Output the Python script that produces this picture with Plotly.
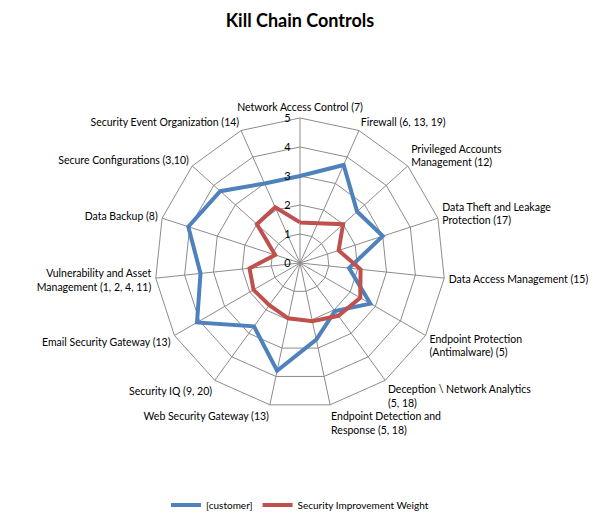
import plotly.graph_objects as go

categories = [
    "Network Access Control (7)",
    "Firewall (6, 13, 19)",
    "Privileged Accounts<br>Management (12)",
    "Data Theft and Leakage<br>Protection (17)",
    "Data Access Management (15)",
    "Endpoint Protection<br>(Antimalware) (5)",
    "Deception \\ Network Analytics<br>(5, 18)",
    "Endpoint Detection and<br>Response (5, 18)",
    "Web Security Gateway (13)",
    "Security IQ (9, 20)",
    "Email Security Gateway (13)",
    "Vulnerability and Asset<br>Management (1, 2, 4, 11)",
    "Data Backup (8)",
    "Secure Configurations (3,10)",
    "Security Event Organization (14)",
]

customer = [3.0, 3.7, 2.65, 3.0, 1.7, 2.8, 2.05, 2.7, 3.8, 2.7, 4.1, 3.45, 4.05, 3.7, 3.0]
weight = [1.4, 1.5, 2.0, 1.4, 2.1, 2.4, 2.25, 2.05, 1.95, 1.8, 1.85, 1.75, 0.9, 2.0, 2.1]

radial_ticks = [0, 1, 2, 3, 4, 5]

series = [
    ("[customer]", customer, "#4F81BD"),
    ("Security Improvement Weight", weight, "#C0504D"),
]

fig = go.Figure()
for name, vals, color in series:
    fig.add_trace(go.Scatterpolar(
        r=vals + vals[:1],
        theta=categories + categories[:1],
        mode="lines",
        name=name,
        line=dict(color=color, width=4),
        hoverinfo="skip",
    ))

font_family = "Lato, 'Open Sans', sans-serif"

fig.update_layout(
    width=600, height=522,
    margin=dict(l=0, r=0, t=0, b=0),
    paper_bgcolor="white",
    plot_bgcolor="white",
    font=dict(family=font_family, size=10, color="#000"),
    title=dict(text="<b>Kill Chain Controls</b>", x=0.5, xanchor="center",
               y=0.96, yanchor="middle", font=dict(size=18, family=font_family, color="#000")),
    polar=dict(
        domain=dict(x=[155/600, 445/600], y=[0.2184, 0.774]),
        gridshape="linear",
        bgcolor="white",
        radialaxis=dict(
            range=[0, 5], tickvals=radial_ticks, angle=90, side="counterclockwise",
            tickangle=90,
            showline=False, gridcolor="#8c8c8c", gridwidth=1,
            ticks="outside", ticklen=5, tickcolor="rgba(0,0,0,0)",
            tickfont=dict(size=11, color="#000"),
        ),
        angularaxis=dict(
            direction="clockwise", rotation=90,
            showline=True, linecolor="#8c8c8c", linewidth=1,
            gridcolor="#8c8c8c", gridwidth=1,
            ticks="outside", ticklen=2, tickcolor="rgba(0,0,0,0)",
            tickfont=dict(size=10.5, color="#000"),
        ),
    ),
    legend=dict(orientation="h", x=0.5, xanchor="center", y=0.0326, yanchor="middle",
                font=dict(size=10, color="#000")),
    showlegend=True,
)

fig.write_html("out.html", config={"displayModeBar": False},
               post_script="document.body.style.margin='0';")
